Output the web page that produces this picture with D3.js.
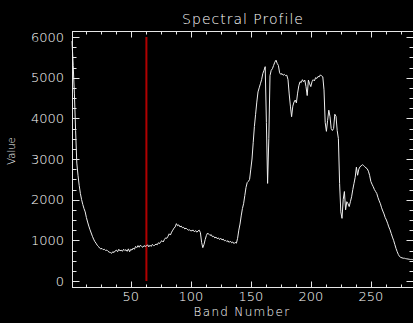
<!DOCTYPE html>
<html>
<head>
<meta charset="utf-8">
<script src="https://cdn.jsdelivr.net/npm/d3@7"></script>
<style>
  html, body { margin: 0; padding: 0; background: #000; }
  svg { display: block; }
  text { font-family: "DejaVu Sans", sans-serif; font-weight: 200; fill: #ffffff; }
</style>
</head>
<body>
<div id="chart"></div>
<script>
// spectrum values, one per band starting at band 1
var values = [
  5900, 5300, 4600, 3700, 2900, 2600, 2350, 2150, 2000, 1880,
  1780, 1700, 1560, 1450, 1350, 1260, 1180, 1100, 1030, 970,
  930, 880, 850, 810, 790, 800, 770, 780, 750, 760,
  730, 710, 700, 680, 720, 700, 740, 760, 720, 780,
  740, 760, 730, 780, 750, 770, 730, 790, 720, 780,
  760, 810, 780, 850, 820, 870, 830, 880, 850, 830,
  870, 850, 860, 890, 840, 880, 850, 900, 870, 880,
  910, 890, 940, 920, 970, 990, 960, 1020, 1060, 1050,
  1100, 1160, 1130, 1200, 1250, 1300, 1330, 1410, 1360, 1380,
  1330, 1350, 1310, 1320, 1280, 1300, 1270, 1250, 1260, 1230,
  1240, 1250, 1210, 1240, 1200, 1230, 1250, 1190, 950, 820,
  900, 1020, 1120, 1180, 1150, 1120, 1140, 1090, 1100, 1060,
  1080, 1040, 1060, 1020, 1050, 1010, 1030, 990, 1000, 970,
  990, 950, 980, 940, 960, 920, 950, 930, 1050, 1250,
  1400, 1600, 1780, 1900, 2100, 2300, 2420, 2450, 2500, 2750,
  3000, 3400, 3800, 4100, 4400, 4650, 4750, 4850, 4950, 5100,
  5180, 5270, 3900, 2400, 3500, 5050, 5180, 5220, 5300, 5380,
  5430, 5350, 5300, 5120, 5080, 5100, 5060, 5080, 5050, 5060,
  4950, 4600, 4300, 4040, 4300, 4400, 4450, 4380, 4620, 4800,
  4900, 4880, 4950, 4900, 4940, 4780, 4560, 4940, 4850, 4780,
  4900, 4950, 4920, 5000, 4980, 5030, 5020, 5070, 5040, 5020,
  4700, 3900, 3680, 3950, 4200, 4040, 3750, 3700, 3750, 4100,
  4050, 3700, 3500, 2400, 1700, 1540, 2000, 2200, 1750, 1950,
  1900, 1830, 1950, 2070, 2250, 2400, 2550, 2800, 2600, 2750,
  2810, 2830, 2860, 2840, 2810, 2780, 2760, 2700, 2600, 2450,
  2380, 2320, 2250, 2200, 2150, 2050, 1970, 1900, 1800, 1720,
  1650, 1560, 1500, 1420, 1330, 1260, 1170, 1080, 1000, 900,
  800, 720, 650, 600, 580, 570, 560, 560, 550, 545,
  540, 535, 530, 530, 525
];

var xTicks = [50, 100, 150, 200, 250];
var yTicks = [0, 1000, 2000, 3000, 4000, 5000, 6000];
var xMinorStep = 12.5;
var yMinorStep = 250;
var markerBand = 63;

var W = 413, H = 323;
var box = {left: 72.5, right: 413.5, top: 31.5, bottom: 287.5};

var svg = d3.select("#chart")
  .append("svg")
    .attr("width", W)
    .attr("height", H);

var x = d3.scaleLinear().domain([1, 286]).range([72, 414]);
var y = d3.scaleLinear().domain([0, 6000]).range([281, 37]);

var axisColor = "#e6e6e6";

// frame
svg.append("rect")
  .attr("x", box.left).attr("y", box.top)
  .attr("width", box.right - box.left)
  .attr("height", box.bottom - box.top)
  .attr("fill", "none")
  .attr("stroke", axisColor)
  .attr("stroke-width", 1);

// x ticks (bottom and top)
var xMinor = [];
for (var v = xMinorStep; v < 286; v += xMinorStep) xMinor.push(v);
var ticks = svg.append("g").attr("stroke", axisColor).attr("stroke-width", 1);
xMinor.forEach(function (t) {
  var major = xTicks.indexOf(t) >= 0;
  var len = major ? 6 : 3;
  var px = Math.round(x(t)) + 0.5;
  ticks.append("line").attr("x1", px).attr("x2", px)
    .attr("y1", box.bottom).attr("y2", box.bottom - len);
  ticks.append("line").attr("x1", px).attr("x2", px)
    .attr("y1", box.top).attr("y2", box.top + len);
});

// y ticks (left and right)
var yMinor = [];
for (var w = 0; w <= 6000; w += yMinorStep) yMinor.push(w);
yMinor.forEach(function (t) {
  var major = yTicks.indexOf(t) >= 0;
  var len = major ? 7 : 4;
  var py = Math.round(y(t)) + 0.5;
  ticks.append("line").attr("x1", box.left).attr("x2", box.left + len)
    .attr("y1", py).attr("y2", py);
  ticks.append("line").attr("x1", box.right).attr("x2", box.right - len)
    .attr("y1", py).attr("y2", py);
});

// tick labels
svg.selectAll(".xlab")
  .data(xTicks)
  .enter()
  .append("text")
    .attr("class", "xlab")
    .attr("x", function (d) { return x(d); })
    .attr("y", 301)
    .attr("text-anchor", "middle")
    .style("font-size", "13px")
    .text(function (d) { return d; });

svg.selectAll(".ylab")
  .data(yTicks)
  .enter()
  .append("text")
    .attr("class", "ylab")
    .attr("x", 64)
    .attr("y", function (d) { return y(d) + 4.5; })
    .attr("text-anchor", "end")
    .style("font-size", "13px")
    .text(function (d) { return d; });

// titles
svg.append("text")
  .attr("x", 243)
  .attr("y", 24)
  .attr("text-anchor", "middle")
  .style("font-size", "14px")
  .style("letter-spacing", "1px")
  .text("Spectral Profile");

svg.append("text")
  .attr("x", 242)
  .attr("y", 316)
  .attr("text-anchor", "middle")
  .style("font-size", "12px")
  .style("letter-spacing", "1.3px")
  .text("Band Number");

svg.append("text")
  .attr("transform", "translate(15,151) rotate(-90)")
  .attr("text-anchor", "middle")
  .style("font-size", "10px")
  .text("Value");

// red band marker
svg.append("line")
  .attr("x1", x(markerBand)).attr("x2", x(markerBand))
  .attr("y1", y(6000)).attr("y2", y(0))
  .attr("stroke", "#b00000")
  .attr("stroke-width", 2);

// spectrum line
var line = d3.line()
  .x(function (d, i) { return x(i + 1); })
  .y(function (d) { return y(d); });

svg.append("path")
  .datum(values)
  .attr("fill", "none")
  .attr("stroke", "#eeeeee")
  .attr("stroke-width", 1)
  .attr("d", line);
</script>
</body>
</html>
